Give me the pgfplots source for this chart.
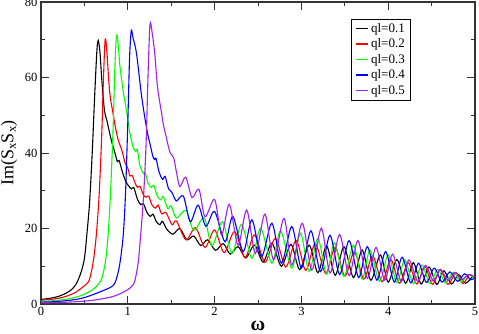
\documentclass[border=0pt]{standalone}
\usepackage{fontspec}
\setmainfont{Liberation Serif}
\usepackage{pgfplots}
\pgfplotsset{compat=1.18}
\definecolor{qviolet}{HTML}{A020F0}

\pgfplotstableread{
w v
0 1.2
0.1 1.5
0.2 2.0
0.3 3.0
0.36 4.0
0.41 5.5
0.46 8.3
0.5 12
0.53 18.8
0.56 27
0.59 40
0.62 56
0.645 67.5
0.66 69.8
0.68 66.5
0.70 59.5
0.73 51.5
0.76 48.5
0.81 43.4
0.85 40.2
0.88 37.7
0.90 38.0
0.94 34.8
0.98 32.3
1.01 31.3
1.04 30.5
1.07 30.8
1.11 27.8
1.15 26.3
1.18 26.6
1.22 24.3
1.26 23.2
1.29 23.8
1.33 21.8
1.37 21.0
1.40 21.9
1.45 19.8
1.52 18.5
1.60 20.0
1.68 17.0
1.76 18.0
1.84 15.5
1.92 17.0
2.01 14.2
2.10 16.0
2.18 13.2
2.27 15.2
2.36 12.2
2.46 15.6
2.56 11.1
2.66 16.1
2.77 10.0
2.88 15.8
2.98 9.1
3.09 15.6
3.19 8.3
3.29 15.4
3.39 7.6
3.49 15.2
3.60 7.0
3.70 14.3
3.80 6.3
3.91 13.0
4.00 5.8
4.10 11.8
4.20 5.5
4.29 10.9
4.38 5.3
4.47 9.8
4.56 5.2
4.64 8.8
4.73 5.3
4.81 7.8
4.89 5.5
4.97 7.2
5.0 7.0
}\qlone

\pgfplotstableread{
w v
0 1.0
0.1 1.2
0.2 1.5
0.3 2.1
0.4 3.1
0.47 4.3
0.545 5.8
0.58 8.5
0.61 12.5
0.64 19
0.67 29
0.70 45
0.72 60
0.74 70.2
0.76 66.5
0.78 59.3
0.80 54.5
0.83 50.5
0.86 46.5
0.89 43.4
0.92 41.5
0.94 40.0
0.97 37.3
1.00 36.0
1.025 33.9
1.05 34.1
1.08 32.3
1.11 30.9
1.14 31.2
1.18 28.9
1.21 28.3
1.24 28.6
1.28 26.2
1.32 25.4
1.35 26.2
1.39 23.9
1.44 24.2
1.51 21.0
1.56 22.0
1.67 17.0
1.78 20.2
1.89 15.0
2.00 19.6
2.11 13.6
2.23 19.2
2.35 12.3
2.46 18.3
2.58 11.0
2.70 17.4
2.82 9.8
2.94 16.8
3.05 8.9
3.16 16.0
3.28 8.1
3.39 15.0
3.50 7.4
3.61 13.8
3.72 6.6
3.82 12.8
3.93 5.9
4.03 11.8
4.13 5.5
4.23 11.0
4.33 5.3
4.42 10.0
4.51 5.2
4.60 9.0
4.69 5.2
4.78 8.3
4.86 5.4
4.94 7.8
5.0 6.6
}\qltwo

\pgfplotstableread{
w v
0 0.7
0.1 0.8
0.2 1.0
0.3 1.3
0.4 1.8
0.5 2.6
0.6 3.9
0.68 5.8
0.72 8.5
0.75 12.5
0.775 18.8
0.80 29
0.83 46
0.85 62
0.87 71.2
0.89 68.5
0.91 62.9
0.95 56.0
0.99 50.5
1.02 45.8
1.06 41.7
1.09 40.4
1.11 40.8
1.14 36.6
1.18 34.6
1.20 34.9
1.23 32.2
1.27 30.9
1.30 31.4
1.34 28.6
1.38 27.6
1.41 28.4
1.46 25.3
1.50 26.0
1.56 22.8
1.67 24.8
1.76 19.5
1.88 22.8
1.97 15.4
2.09 21.8
2.20 13.4
2.31 21.1
2.43 12.1
2.53 20.1
2.66 10.8
2.76 19.4
2.89 9.5
2.99 18.7
3.09 8.6
3.19 17.4
3.29 7.9
3.38 16.2
3.49 7.3
3.60 15.6
3.70 6.6
3.79 14.3
3.90 6.0
4.00 13.0
4.10 5.6
4.19 11.7
4.29 5.4
4.39 10.3
4.48 5.4
4.57 9.2
4.66 5.6
4.75 8.4
4.84 5.8
4.92 7.8
5.0 6.6
}\qlthree

\pgfplotstableread{
w v
0 0.5
0.1 0.55
0.2 0.7
0.3 0.9
0.4 1.2
0.5 1.7
0.6 2.5
0.7 3.4
0.8 4.4
0.85 5.5
0.89 8.5
0.92 12.5
0.95 19
0.975 30
1.00 48
1.02 65
1.04 72.4
1.06 70.5
1.10 66.4
1.16 54.9
1.22 46.1
1.26 42.0
1.29 39.0
1.31 38.3
1.325 38.6
1.36 35.0
1.40 33.0
1.43 33.8
1.47 30.5
1.51 29.5
1.56 27.3
1.64 28.6
1.72 21.8
1.81 26.2
1.90 20.6
2.00 24.5
2.12 16.5
2.21 23.2
2.33 13.9
2.43 22.3
2.54 12.5
2.66 21.4
2.77 10.8
2.89 20.5
3.00 9.5
3.11 19.4
3.22 8.6
3.33 18.2
3.44 7.8
3.55 16.8
3.66 7.0
3.76 15.2
3.87 6.3
3.97 13.9
4.07 5.8
4.16 12.4
4.26 5.6
4.35 10.8
4.44 5.7
4.53 9.5
4.62 5.8
4.71 8.5
4.80 6.0
4.88 8.0
4.95 6.4
5.0 7.0
}\qlfour

\pgfplotstableread{
w v
0 0.3
0.2 0.4
0.4 0.6
0.6 1.0
0.8 1.8
0.9 2.6
1.0 3.8
1.05 4.8
1.08 6.0
1.12 11
1.15 18.8
1.18 28
1.21 42
1.235 62
1.256 74.1
1.28 72
1.31 66.4
1.34 58
1.37 53.2
1.39 50.5
1.41 47.5
1.44 44.5
1.47 41.5
1.49 40.0
1.53 38.6
1.56 35.0
1.60 31.1
1.667 33.6
1.74 28.2
1.82 30.4
1.89 23.1
2.00 27.7
2.08 18.3
2.17 26.4
2.27 15.6
2.37 24.9
2.47 13.4
2.58 23.8
2.68 11.7
2.80 22.7
2.89 10.3
3.01 21.4
3.12 9.0
3.23 20.1
3.33 8.2
3.44 18.4
3.55 7.5
3.65 16.8
3.76 6.8
3.86 15.0
3.96 6.3
4.05 13.2
4.15 6.0
4.24 11.7
4.34 6.0
4.43 10.2
4.52 6.1
4.60 9.2
4.69 6.2
4.77 8.4
4.85 6.5
4.92 7.8
5.0 7.2
}\qlfive

\begin{document}
\begin{tikzpicture}
\begin{axis}[
    scale only axis,
    width=434pt,
    height=302pt,
    xmin=0, xmax=5,
    ymin=0, ymax=80,
    xtick={0,1,2,3,4,5},
    ytick={0,20,40,60,80},
    minor x tick num=1,
    minor y tick num=1,
    tick align=inside,
    major tick length=8pt,
    minor tick length=4pt,
    axis line style={line width=1.1pt, black!80},
    every tick/.style={line width=0.9pt, black!80},
    tick label style={font=\fontsize{12.5}{14}\selectfont},
    /pgf/number format/assume math mode=true,
    xlabel={\textbf{ω}},
    ylabel={Im(S\textsubscript{x}S\textsubscript{x})},
    every axis x label/.style={at={(axis description cs:0.5,0)}, anchor=base, inner sep=0pt, yshift=-27pt, font=\fontsize{20}{22}\selectfont},
    every axis y label/.style={at={(axis description cs:-0.0737,0.5)}, anchor=center, rotate=90, font=\fontsize{18}{20}\selectfont},
    legend style={at={(0.853,0.944)}, anchor=north east, draw=black, line width=0.8pt,
        font=\fontsize{13}{15}\selectfont, cells={anchor=west}, row sep=1pt, inner xsep=4pt},
    legend image code/.code={\draw[#1, line width=1.4pt] (0pt,0pt) -- (12pt,0pt);},
    every axis plot/.append style={line width=1.1pt},
]
\addplot[black, smooth] table[x=w,y=v] {\qlone};
\addlegendentry{ql=0.1}
\addplot[red, smooth] table[x=w,y=v] {\qltwo};
\addlegendentry{ql=0.2}
\addplot[green, smooth] table[x=w,y=v] {\qlthree};
\addlegendentry{ql=0.3}
\addplot[blue, smooth] table[x=w,y=v] {\qlfour};
\addlegendentry{ql=0.4}
\addplot[qviolet, smooth] table[x=w,y=v] {\qlfive};
\addlegendentry{ql=0.5}
\end{axis}
\pgfresetboundingbox
\useasboundingbox (-41pt,-30pt) rectangle (438pt,304pt);
\end{tikzpicture}
\end{document}
